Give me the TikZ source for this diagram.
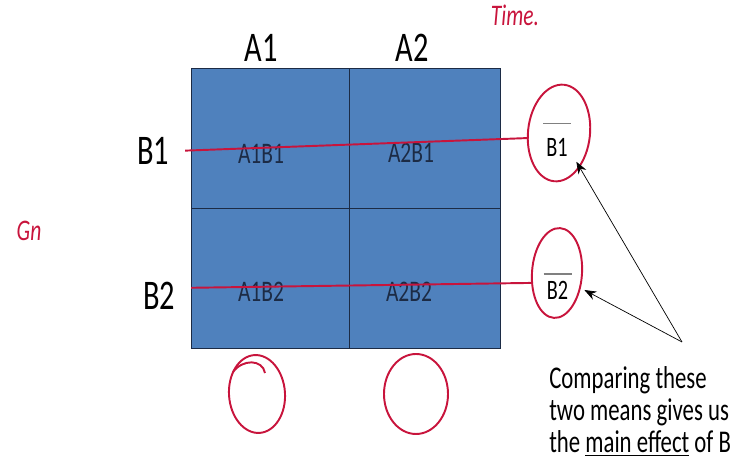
\documentclass[tikz,border=0pt]{standalone}
\usepackage{fontspec}
\setmainfont{Carlito}[FakeStretch=0.72]
\usetikzlibrary{shapes.geometric, arrows.meta, positioning}
\definecolor{cellblue}{HTML}{4F81BD}
\definecolor{gridline}{HTML}{1C2B45}
\definecolor{ink}{HTML}{C8143C}
\tikzset{
  inkline/.style={draw=ink, line width=1.1pt},
  ring/.style={ellipse, draw=ink, line width=1.1pt, inner sep=0pt},
  lvl/.style={font=\fontsize{24}{24}\selectfont},
  cell/.style={font=\fontsize{17}{17}\selectfont, text=gridline},
  mean/.style={font=\fontsize{16}{16}\selectfont}
}
\begin{document}
\begin{tikzpicture}
		\useasboundingbox (0,0) rectangle (14.74,9.32);
		% Grid of cells
		\draw[fill=cellblue, draw=gridline, thin] (3.82,2.36) rectangle (10.0,7.96);
		\draw[gridline, thin] (6.98,2.36) -- (6.98,7.96);
		\draw[gridline, thin] (3.82,5.16) -- (10.0,5.16);
		\node[lvl] (A1) at (5.22,8.37) {A1};
		\node[lvl] (A2) at (8.24,8.37) {A2};
		\node[lvl] (B1) at (3.06,6.30) {B1};
		\node[lvl] (B2) at (3.18,3.40) {B2};
		\node[cell] (A1B1) at (5.22,6.25) {A1B1};
		\node[cell] (A2B1) at (8.22,6.26) {A2B1};
		\node[cell] (A1B2) at (5.22,3.48) {A1B2};
		\node[cell] (A2B2) at (8.18,3.48) {A2B2};
		
		% Row means (right)
		\node[ring, minimum width=1.24cm, minimum height=1.94cm, rotate=-6] (ringB1) at (11.18,6.66) {};
		\node[ring, minimum width=1.0cm, minimum height=1.8cm, rotate=-4] (ringB2) at (11.14,3.86) {};
		\node[mean] (mB1) at (11.14,6.37) {B1};
		\node[mean] (mB2) at (11.15,3.52) {B2};
		\draw[gray, thick] ([xshift=-0.28cm,yshift=0.17cm]mB1.north) -- ([xshift=0.28cm,yshift=0.17cm]mB1.north);
		\draw[gray, thick] ([xshift=-0.28cm,yshift=0.01cm]mB2.north) -- ([xshift=0.28cm,yshift=0.01cm]mB2.north);
		\draw[inkline, shorten <=0.2cm] (B1.east) -- (ringB1.195);
		\draw[inkline, shorten <=0.2cm] (B2.20) -- (ringB2.205);
		
		% Column circles (below)
		\node[ring, minimum width=1.12cm, minimum height=1.56cm, rotate=4] (ringA1) at (5.14,1.44) {};
		\node[ring, minimum width=1.28cm, minimum height=1.6cm] (ringA2) at (8.32,1.44) {};
		\draw[ink, line width=1.1pt] (4.66,1.88) .. controls (4.85,2.14) and (5.25,2.14) .. (5.30,1.86);
		
		% Note with arrows
		\coordinate (tip) at (13.64,2.48);
		\draw[-{Stealth[length=2.4mm, width=1.8mm]}, thin] (tip) -- ([xshift=0.05cm,yshift=0.02cm]mB1.south east);
		\draw[-{Stealth[length=2.4mm, width=1.8mm]}, thin] (tip) -- ([xshift=0.2cm]mB2.east);
		\node[anchor=north west, align=left, font=\fontsize{18}{18.4}\selectfont, inner sep=0pt] (note) at (10.98,2.0)
			{Comparing these\\two means gives us\\the \underline{main effect} of B};
		
		% Handwriting
		\node[text=ink, font=\itshape\fontsize{17}{17}\selectfont] (timeNote) at (10.30,9.02) {Time.};
		\node[text=ink, font=\itshape\fontsize{17}{17}\selectfont] (grpNote) at (0.58,4.70) {Gn};
	\end{tikzpicture}
\end{document}
